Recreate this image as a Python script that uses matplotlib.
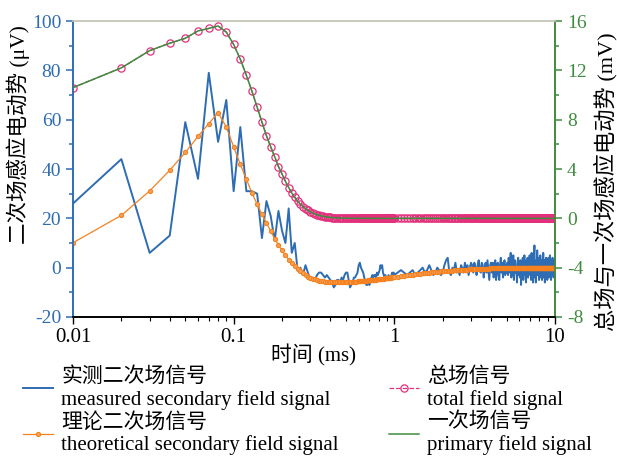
import numpy as np
import matplotlib
matplotlib.use("Agg")
import matplotlib.pyplot as plt
from matplotlib.ticker import MultipleLocator

plt.rcParams['font.family'] = ['Liberation Serif', 'Noto Sans CJK SC']
plt.rcParams['axes.unicode_minus'] = False

# sampling times (ms): 0.01 ms steps up to 1 ms, then 0.05 ms steps up to 10 ms
t_early = np.arange(1, 101) * 0.01
t_late = np.arange(21, 201) * 0.05
time_ms = np.concatenate([t_early, t_late])

measured_early = [
    26, 44, 6, 13, 59, 36, 79, 51, 68, 31, 57, 31, 31, 30, 12, 27, 21, 11, 23, 15,
    10, 24, 6, 10, -1, 0, -3, 1, -2, -5, -4, -5, -3, -2, -2, -3, -4, -3, -4, -5,
    -6, -8, -7, -5, -5, -6, -4, -5, -3, -2, -2, -5, -8, -7, -6, -4, -4, -3, -2, 1,
    2, 0, -1, -2, -4, -6, -7, -7, -6, -7, -5, -4, -3, -4, -3, -3, -4, -2, -3, -2,
    -1, 1, 0, 1, -2, -3, -4, -3, -5, -4, -5, -3, -4, -5, -4, -3, -2, -3, -2, -3,
]
measured_late = [
    -2, -1, -2, -3, -2, -1, -3, -2, -1, 0, -2, -1, 1, -1, -3, -2, 0, -1, -3, -2,
    1, 3, 4, -2, -3, 0, -1, 2, -2, -1, -3, 1, 0, -2, 2, -1, 1, -3, 0, 2,
    1, -2, 2, 0, -3, 1, 3, -1, -2, 2, 1, -4, 0, 2, -2, 3, -1, -5, 1, 2,
    -2, 2, -4, 1, 3, -5, 0, 2, -3, -5, 1, 4, -2, 2, -4, 0, 3, -3, 1, -2,
    2, -3, 4, -2, 1, 6, -4, 2, -3, 5, -5, 1, 3, -2, 0, -6, 2, 4, -3, 1,
    -4, 3, -7, 2, -2, 4, -5, 1, 5, -3, 2, -6, 3, -1, 4, -4, 1, -2, 5, -3,
    2, -5, 6, -1, 3, -6, 2, 5, 9, -4, 1, -6, 3, -2, 7, -3, 0, 4, -5, 2,
    -3, 5, -4, 1, 3, -5, 2, -2, 6, -4, 0, 3, -6, 2, -1, 4, -3, 1, -5, 3,
    -2, 4, -4, 1, -3, 5, -1, 2, -5, 3, 0, -3, 4, -2, 1, -4, 3, -1, 2, 0,
]

# theoretical secondary field (uV)
theory_early = [
    10.1, 21.2, 31.1, 39.5, 46.7, 53.2, 58.4, 62.8, 57.0, 49.0,
    41.9, 35.8, 30.3, 25.7, 21.6, 18.2, 14.8, 11.8, 9.2, 7.0,
    5.0, 3.3, 1.8, 0.5, -0.6, -1.5, -2.3, -3.0, -3.6, -4.1,
    -4.5, -4.8, -5.1, -5.3, -5.5, -5.6, -5.7, -5.8, -5.9, -5.9,
    -5.95, -6.0, -6.0, -6.0, -6.0, -6.0, -5.95, -5.95, -5.9, -5.9,
    -5.85, -5.85, -5.8, -5.8, -5.75, -5.7, -5.7, -5.65, -5.6, -5.6,
    -5.55, -5.5, -5.45, -5.4, -5.4, -5.35, -5.3, -5.25, -5.2, -5.2,
    -5.15, -5.1, -5.05, -5.0, -4.95, -4.9, -4.85, -4.8, -4.75, -4.7,
    -4.65, -4.6, -4.55, -4.5, -4.45, -4.4, -4.35, -4.3, -4.25, -4.2,
    -4.15, -4.1, -4.05, -4.0, -4.0, -3.95, -3.9, -3.85, -3.8, -3.8,
]
theory_late = [
    -3.6, -3.4, -3.25, -3.1, -2.95, -2.8, -2.7, -2.55, -2.45, -2.35,
    -2.25, -2.15, -2.05, -1.95, -1.9, -1.8, -1.7, -1.65, -1.55, -1.5,
    -1.45, -1.4, -1.35, -1.3, -1.25, -1.2, -1.15, -1.1, -1.05, -1.0,
    -0.97, -0.93, -0.9, -0.86, -0.83, -0.8, -0.77, -0.74, -0.71, -0.68,
    -0.66, -0.63, -0.61, -0.59, -0.57, -0.55, -0.53, -0.51, -0.49, -0.47,
    -0.45, -0.44, -0.42, -0.41, -0.39, -0.38, -0.37, -0.35, -0.34, -0.33,
    -0.32, -0.31, -0.3, -0.29, -0.28, -0.27, -0.26, -0.25, -0.24, -0.23,
    -0.22, -0.22, -0.21, -0.2, -0.2, -0.19, -0.18, -0.18, -0.17, -0.17,
    -0.16, -0.16, -0.15, -0.15, -0.14, -0.14, -0.13, -0.13, -0.12, -0.12,
    -0.12, -0.11, -0.11, -0.1, -0.1, -0.1, -0.09, -0.09, -0.09, -0.08,
    -0.08, -0.08, -0.07, -0.07, -0.07, -0.07, -0.06, -0.06, -0.06, -0.06,
    -0.05, -0.05, -0.05, -0.05, -0.05, -0.04, -0.04, -0.04, -0.04, -0.04,
    -0.04, -0.03, -0.03, -0.03, -0.03, -0.03, -0.03, -0.03, -0.02, -0.02,
    -0.02, -0.02, -0.02, -0.02, -0.02, -0.02, -0.02, -0.01, -0.01, -0.01,
    -0.01, -0.01, -0.01, -0.01, -0.01, -0.01, -0.01, -0.01, -0.01, -0.01,
    -0.01, -0.01, 0.0, 0.0, 0.0, 0.0, 0.0, 0.0, 0.0, 0.0,
    0.0, 0.0, 0.0, 0.0, 0.0, 0.0, 0.0, 0.0, 0.0, 0.0,
    0.0, 0.0, 0.0, 0.0, 0.0, 0.0, 0.0, 0.0, 0.0, 0.0,
]

# primary field (mV); the total field coincides with it at this scale
primary_early = [
    10.6, 12.2, 13.6, 14.2, 14.6, 15.2, 15.4, 15.6, 15.1, 14.1,
    12.9, 11.6, 10.3, 9.0, 7.8, 6.7, 5.8, 5.0, 4.2, 3.6,
    3.0, 2.5, 2.05, 1.7, 1.4, 1.15, 0.95, 0.78, 0.64, 0.52,
    0.43, 0.35, 0.29, 0.24, 0.2, 0.16, 0.13, 0.11, 0.09, 0.07,
    0.06, 0.05, 0.04, 0.04, 0.03, 0.03, 0.02, 0.02, 0.02, 0.01,
    0.01, 0.01, 0.01, 0.01, 0.01, 0.01, 0.01, 0.01, 0.01, 0.01,
    0.0, 0.0, 0.0, 0.0, 0.0, 0.0, 0.0, 0.0, 0.0, 0.0,
    0.0, 0.0, 0.0, 0.0, 0.0, 0.0, 0.0, 0.0, 0.0, 0.0,
    0.0, 0.0, 0.0, 0.0, 0.0, 0.0, 0.0, 0.0, 0.0, 0.0,
    0.0, 0.0, 0.0, 0.0, 0.0, 0.0, 0.0, 0.0, 0.0, 0.0,
]
primary_late = [
    0.0, 0.0, 0.0, 0.0, 0.0, 0.0, 0.0, 0.0, 0.0, 0.0, 0.0, 0.0, 0.0, 0.0, 0.0, 0.0, 0.0, 0.0, 0.0, 0.0,
    0.0, 0.0, 0.0, 0.0, 0.0, 0.0, 0.0, 0.0, 0.0, 0.0, 0.0, 0.0, 0.0, 0.0, 0.0, 0.0, 0.0, 0.0, 0.0, 0.0,
    0.0, 0.0, 0.0, 0.0, 0.0, 0.0, 0.0, 0.0, 0.0, 0.0, 0.0, 0.0, 0.0, 0.0, 0.0, 0.0, 0.0, 0.0, 0.0, 0.0,
    0.0, 0.0, 0.0, 0.0, 0.0, 0.0, 0.0, 0.0, 0.0, 0.0, 0.0, 0.0, 0.0, 0.0, 0.0, 0.0, 0.0, 0.0, 0.0, 0.0,
    0.0, 0.0, 0.0, 0.0, 0.0, 0.0, 0.0, 0.0, 0.0, 0.0, 0.0, 0.0, 0.0, 0.0, 0.0, 0.0, 0.0, 0.0, 0.0, 0.0,
    0.0, 0.0, 0.0, 0.0, 0.0, 0.0, 0.0, 0.0, 0.0, 0.0, 0.0, 0.0, 0.0, 0.0, 0.0, 0.0, 0.0, 0.0, 0.0, 0.0,
    0.0, 0.0, 0.0, 0.0, 0.0, 0.0, 0.0, 0.0, 0.0, 0.0, 0.0, 0.0, 0.0, 0.0, 0.0, 0.0, 0.0, 0.0, 0.0, 0.0,
    0.0, 0.0, 0.0, 0.0, 0.0, 0.0, 0.0, 0.0, 0.0, 0.0, 0.0, 0.0, 0.0, 0.0, 0.0, 0.0, 0.0, 0.0, 0.0, 0.0,
    0.0, 0.0, 0.0, 0.0, 0.0, 0.0, 0.0, 0.0, 0.0, 0.0, 0.0, 0.0, 0.0, 0.0, 0.0, 0.0, 0.0, 0.0, 0.0, 0.0,
]

measured_uv = np.array(measured_early + measured_late, dtype=float)
theory_uv = np.array(theory_early + theory_late)
primary_mv = np.array(primary_early + primary_late)
total_mv = primary_mv

x_ticks = [0.01, 0.1, 1, 10]
x_ticklabels = ['0.01', '0.1', '1', '10']

labels = ['实测二次场信号\nmeasured secondary field signal',
          '理论二次场信号\ntheoretical secondary field signal',
          '总场信号\ntotal field signal',
          '一次场信号\nprimary field signal']

c_blue = '#2e6cb4'
c_orange = '#f5821f'
c_pink = '#e2307d'
c_green = '#3f8c3f'

fig = plt.figure(figsize=(6.17, 4.61), dpi=100)
ax = fig.add_axes([0.1183, 0.3124, 0.7812, 0.642])
ax2 = ax.twinx()

h1, = ax.plot(time_ms, measured_uv, color=c_blue, lw=1.4, zorder=2)
h2, = ax.plot(time_ms, theory_uv, color=c_orange, lw=0.9, marker='o', ms=3,
              mfc='#f7a05a', mec=c_orange, mew=0.8, zorder=3)
h3, = ax2.plot(time_ms, total_mv, color=c_pink, lw=0.9, ls='--', marker='o', ms=5.2,
               mfc='none', mec=c_pink, mew=0.9, zorder=2)
h4, = ax2.plot(time_ms, primary_mv, color=c_green, lw=1.1, zorder=3)

ax.set_xscale('log')
ax.set_xlim(0.01, 10)
ax.set_ylim(-20, 100)
ax2.set_ylim(-8, 16)
ax.set_xticks(x_ticks, labels=x_ticklabels)
ax.yaxis.set_major_locator(MultipleLocator(20))
ax.yaxis.set_minor_locator(MultipleLocator(10))
ax2.yaxis.set_major_locator(MultipleLocator(4))
ax2.yaxis.set_minor_locator(MultipleLocator(2))

ax.tick_params(axis='x', which='major', direction='out', length=5, width=1, labelsize=15, pad=3)
ax.tick_params(axis='x', which='minor', direction='out', length=3, width=0.8)
ax.tick_params(axis='y', which='both', direction='out', colors=c_blue, labelsize=14, width=1.1)
ax.tick_params(axis='y', which='major', length=5)
ax.tick_params(axis='y', which='minor', length=3)
ax2.tick_params(axis='y', which='both', direction='out', colors=c_green, labelsize=14, width=1.1)
ax2.tick_params(axis='y', which='major', length=5)
ax2.tick_params(axis='y', which='minor', length=3)

for a in (ax, ax2):
    a.spines['left'].set_color(c_blue)
    a.spines['right'].set_color(c_green)
    a.spines['top'].set_color('#c9c9bf')
    a.spines['bottom'].set_color('black')
    for s in a.spines.values():
        s.set_linewidth(1.2)

ax.set_xlabel('时间 (ms)', fontsize=15, labelpad=-2)
ax.set_ylabel('二次场感应电动势 (μV)', fontsize=15.5)
ax.yaxis.set_label_coords(-0.09, 0.615)
ax2.set_ylabel('总场与一次场感应电动势 (mV)', fontsize=16, rotation=90)
ax2.yaxis.set_label_coords(1.08, 0.456)

fig.legend([h1, h2, h3, h4], labels, loc='upper left', bbox_to_anchor=(0.023, 0.222),
           ncol=2, frameon=False, fontsize=15, handlelength=1.45, handletextpad=0.4,
           columnspacing=2.4, labelspacing=0.15, borderaxespad=0)

fig.savefig('out.png', dpi=100)
